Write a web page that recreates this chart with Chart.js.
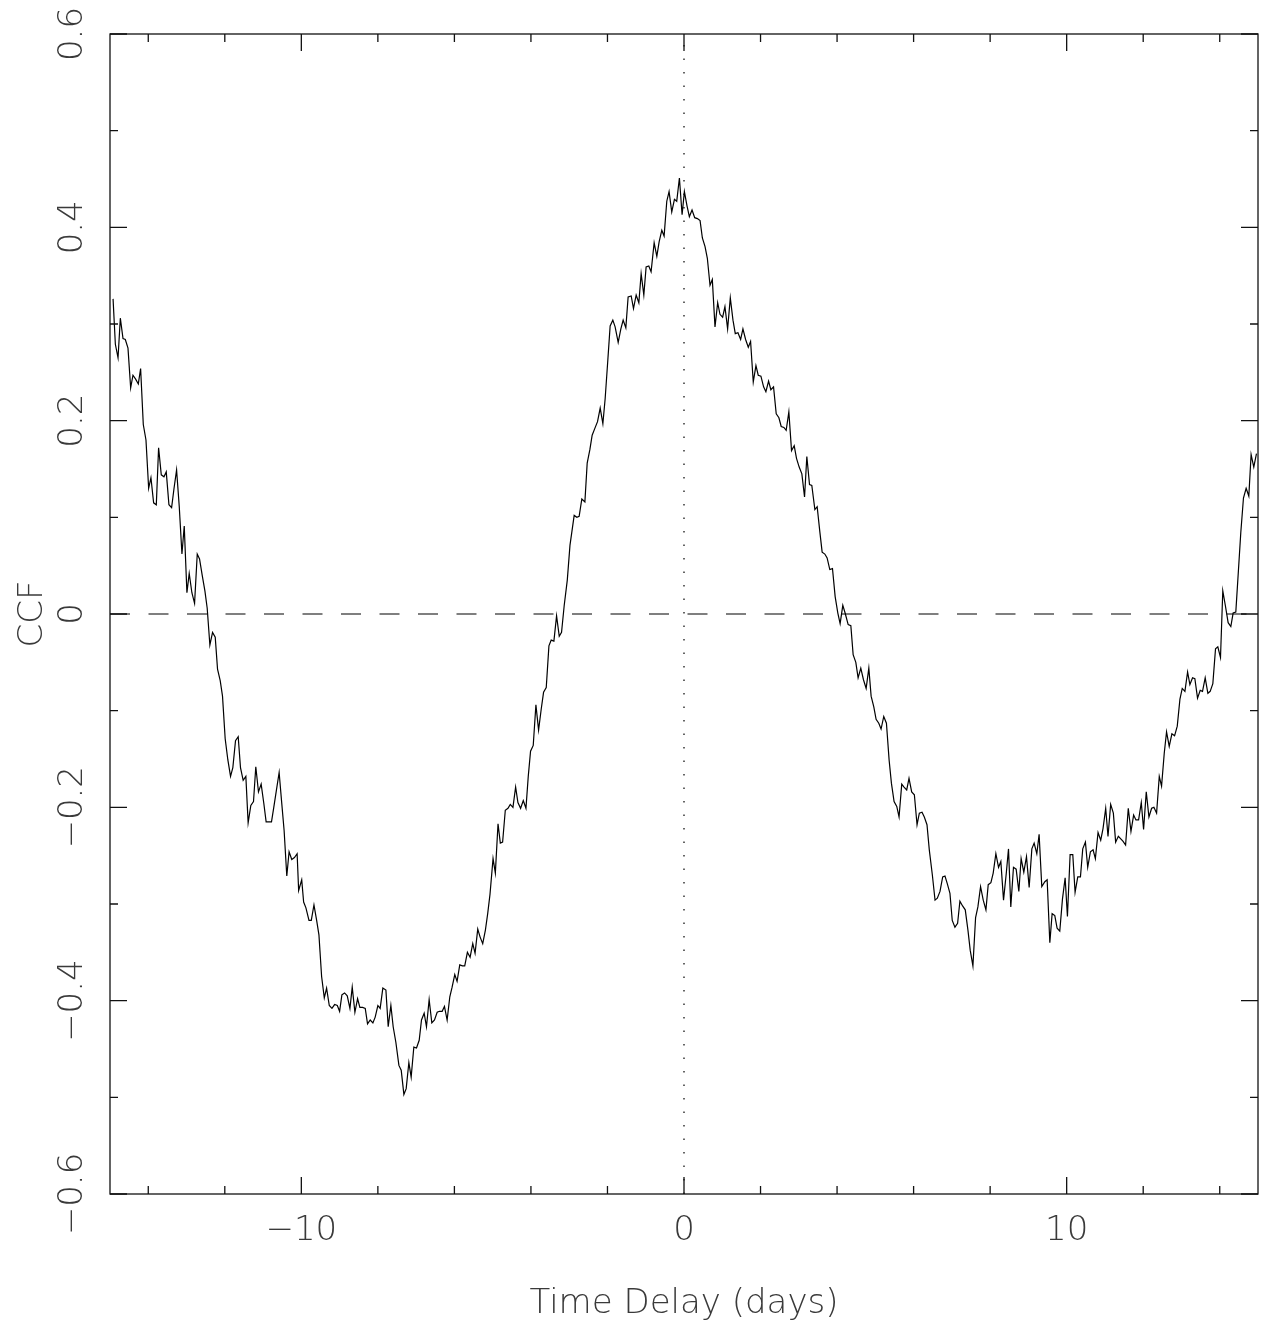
<!DOCTYPE html>
<html>
<head>
<meta charset="utf-8">
<script src="https://cdn.jsdelivr.net/npm/chart.js@4/dist/chart.umd.min.js"></script>
<style>
  html, body { margin: 0; padding: 0; background: #fff; }
  canvas { display: block; }
</style>
</head>
<body>
<canvas id="ccf" width="1263" height="1326"></canvas>
<script>
// lag (days) and CCF, in six stretches
const lagA = [-14.92, -14.86, -14.79, -14.73, -14.66, -14.60, -14.53, -14.46, -14.40, -14.33,
  -14.26, -14.20, -14.13, -14.06, -13.99, -13.93, -13.86, -13.79, -13.73, -13.66,
  -13.59, -13.53, -13.46, -13.39, -13.33, -13.26, -13.19, -13.12, -13.06, -12.99,
  -12.93, -12.86, -12.79, -12.72, -12.66, -12.59, -12.52, -12.46, -12.39, -12.32,
  -12.25, -12.19, -12.12, -12.06, -11.99, -11.92, -11.85, -11.79, -11.72, -11.65,
  -11.59, -11.52, -11.45, -11.39, -11.32, -11.25, -11.19, -11.12, -11.05, -10.98,
  -10.92, -10.85, -10.78, -10.72, -10.65, -10.58, -10.52, -10.45, -10.38, -10.32,
  -10.25, -10.18, -10.11];
const ccfA = [0.326, 0.279, 0.265, 0.306, 0.285, 0.284, 0.275, 0.234, 0.247, 0.243,
  0.238, 0.254, 0.196, 0.180, 0.130, 0.141, 0.115, 0.113, 0.172, 0.144,
  0.142, 0.147, 0.113, 0.110, 0.129, 0.149, 0.111, 0.062, 0.091, 0.022,
  0.042, 0.022, 0.011, 0.062, 0.057, 0.040, 0.024, 0.006, -0.032, -0.019,
  -0.024, -0.057, -0.069, -0.085, -0.129, -0.151, -0.168, -0.159, -0.131, -0.127,
  -0.159, -0.172, -0.168, -0.216, -0.198, -0.194, -0.158, -0.184, -0.176, -0.196,
  -0.215, -0.215, -0.215, -0.200, -0.182, -0.164, -0.192, -0.224, -0.271, -0.246,
  -0.254, -0.252, -0.248];

const lagB = [-10.07, -9.99, -9.94, -9.88, -9.80, -9.74, -9.67, -9.60, -9.54, -9.47,
  -9.40, -9.34, -9.27, -9.20, -9.13, -9.06, -9.00, -8.94, -8.87, -8.80,
  -8.73, -8.67, -8.60, -8.53, -8.47, -8.40, -8.33, -8.27, -8.20, -8.13,
  -8.07, -8.00, -7.94, -7.87, -7.79, -7.73, -7.66, -7.60, -7.53, -7.45,
  -7.39, -7.32, -7.26, -7.19, -7.13, -7.06, -6.99, -6.92, -6.86, -6.79,
  -6.73, -6.66, -6.59, -6.52, -6.45, -6.39, -6.32, -6.26, -6.19, -6.12,
  -6.06, -5.99, -5.93, -5.86, -5.79, -5.73, -5.66, -5.59, -5.52, -5.46,
  -5.39, -5.33, -5.26, -5.19, -5.13, -5.07, -4.99, -4.93, -4.86, -4.80];
const ccfB = [-0.286, -0.275, -0.298, -0.304, -0.317, -0.317, -0.301, -0.317, -0.332, -0.375,
  -0.397, -0.387, -0.405, -0.408, -0.404, -0.405, -0.411, -0.394, -0.392, -0.395,
  -0.408, -0.386, -0.412, -0.398, -0.407, -0.407, -0.408, -0.424, -0.420, -0.423,
  -0.417, -0.405, -0.408, -0.387, -0.389, -0.427, -0.405, -0.427, -0.443, -0.467,
  -0.472, -0.497, -0.491, -0.464, -0.479, -0.448, -0.449, -0.441, -0.420, -0.413,
  -0.427, -0.399, -0.423, -0.420, -0.412, -0.411, -0.411, -0.406, -0.420, -0.396,
  -0.386, -0.373, -0.380, -0.363, -0.364, -0.364, -0.350, -0.355, -0.341, -0.351,
  -0.326, -0.334, -0.341, -0.327, -0.310, -0.290, -0.253, -0.268, -0.217, -0.237];

const lagC = [-4.74, -4.67, -4.60, -4.54, -4.47, -4.40, -4.34, -4.27, -4.20, -4.13,
  -4.07, -4.01, -3.94, -3.87, -3.80, -3.73, -3.67, -3.60, -3.53, -3.47,
  -3.40, -3.33, -3.26, -3.20, -3.13, -3.05, -2.98, -2.87, -2.80, -2.74,
  -2.67, -2.59, -2.53, -2.46, -2.40, -2.33, -2.26, -2.19, -2.12, -2.06,
  -1.99, -1.93, -1.86, -1.80, -1.72, -1.65, -1.59, -1.52, -1.46, -1.38,
  -1.32, -1.25, -1.18, -1.12, -1.05, -0.99, -0.92, -0.86, -0.78, -0.71,
  -0.65, -0.58, -0.52, -0.45, -0.39, -0.32, -0.25, -0.19, -0.12, -0.05,
  0.01, 0.08, 0.14, 0.21, 0.28, 0.35, 0.42];
const ccfC = [-0.236, -0.203, -0.201, -0.197, -0.200, -0.179, -0.195, -0.201, -0.193, -0.201,
  -0.168, -0.142, -0.136, -0.094, -0.120, -0.098, -0.081, -0.076, -0.033, -0.027,
  -0.028, -0.002, -0.023, -0.019, 0.009, 0.035, 0.071, 0.102, 0.100, 0.101,
  0.119, 0.116, 0.156, 0.170, 0.185, 0.192, 0.199, 0.213, 0.197, 0.223,
  0.263, 0.298, 0.304, 0.297, 0.281, 0.295, 0.304, 0.296, 0.328, 0.329,
  0.316, 0.330, 0.322, 0.352, 0.330, 0.359, 0.360, 0.354, 0.384, 0.370,
  0.385, 0.397, 0.391, 0.427, 0.437, 0.416, 0.429, 0.427, 0.451, 0.413,
  0.437, 0.422, 0.411, 0.418, 0.410, 0.409, 0.407];

const lagD = [0.48, 0.55, 0.61, 0.68, 0.74, 0.81, 0.88, 0.94, 1.01, 1.07,
  1.14, 1.21, 1.28, 1.34, 1.41, 1.48, 1.54, 1.61, 1.68, 1.74,
  1.81, 1.88, 1.94, 2.01, 2.08, 2.14, 2.21, 2.27, 2.34, 2.41,
  2.48, 2.54, 2.61, 2.67, 2.74, 2.81, 2.88, 2.94, 3.01, 3.08,
  3.15, 3.21, 3.28, 3.34, 3.42, 3.48, 3.55, 3.61, 3.68, 3.74,
  3.81, 3.88, 3.95, 4.02, 4.08, 4.15, 4.21, 4.29, 4.36, 4.42,
  4.49, 4.55, 4.62, 4.69, 4.76, 4.83, 4.89, 4.96, 5.02, 5.09,
  5.15, 5.22, 5.29, 5.36, 5.42, 5.49, 5.56, 5.62, 5.69, 5.75,
  5.82, 5.88, 5.95, 6.02, 6.09, 6.15, 6.22, 6.28, 6.35, 6.41,
  6.49, 6.56, 6.62];
const ccfD = [0.389, 0.380, 0.368, 0.340, 0.346, 0.297, 0.322, 0.310, 0.307, 0.318,
  0.295, 0.327, 0.304, 0.290, 0.291, 0.284, 0.295, 0.284, 0.276, 0.282,
  0.240, 0.257, 0.247, 0.246, 0.235, 0.230, 0.241, 0.232, 0.235, 0.207,
  0.203, 0.194, 0.193, 0.190, 0.209, 0.169, 0.174, 0.161, 0.152, 0.145,
  0.121, 0.163, 0.134, 0.133, 0.108, 0.111, 0.085, 0.064, 0.062, 0.058,
  0.046, 0.047, 0.018, 0.001, -0.010, 0.009, 0.001, -0.011, -0.012, -0.042,
  -0.050, -0.066, -0.056, -0.068, -0.077, -0.056, -0.085, -0.096, -0.109, -0.113,
  -0.119, -0.106, -0.113, -0.151, -0.175, -0.194, -0.199, -0.210, -0.176, -0.179,
  -0.182, -0.170, -0.184, -0.187, -0.218, -0.206, -0.205, -0.210, -0.218, -0.244,
  -0.270, -0.296, -0.294];

const lagE = [6.69, 6.76, 6.82, 6.88, 6.95, 7.01, 7.08, 7.15, 7.21, 7.28,
  7.35, 7.42, 7.48, 7.55, 7.62, 7.68, 7.75, 7.82, 7.89, 7.95,
  8.02, 8.08, 8.15, 8.22, 8.28, 8.35, 8.42, 8.48, 8.54, 8.61,
  8.68, 8.75, 8.81, 8.88, 8.95, 9.02, 9.09, 9.15, 9.22, 9.28,
  9.35, 9.43, 9.49, 9.56, 9.62, 9.69, 9.75, 9.82, 9.89, 9.96,
  10.02, 10.09, 10.16, 10.22, 10.29, 10.36, 10.42, 10.49, 10.55, 10.62,
  10.69, 10.75, 10.82, 10.89, 10.95, 11.02, 11.08, 11.15, 11.22, 11.28,
  11.35];
const ccfE = [-0.287, -0.272, -0.271, -0.279, -0.289, -0.317, -0.324, -0.320, -0.297, -0.302,
  -0.306, -0.327, -0.348, -0.364, -0.314, -0.303, -0.282, -0.296, -0.306, -0.280,
  -0.278, -0.268, -0.248, -0.262, -0.256, -0.296, -0.269, -0.243, -0.303, -0.262,
  -0.264, -0.287, -0.253, -0.267, -0.251, -0.283, -0.243, -0.237, -0.248, -0.228,
  -0.282, -0.277, -0.275, -0.340, -0.310, -0.312, -0.325, -0.328, -0.295, -0.273,
  -0.313, -0.249, -0.249, -0.288, -0.272, -0.272, -0.243, -0.236, -0.262, -0.246,
  -0.244, -0.253, -0.226, -0.234, -0.222, -0.201, -0.230, -0.197, -0.206, -0.236,
  -0.230];

const lagF = [11.47, 11.54, 11.61, 11.68, 11.75, 11.81, 11.88, 11.95, 12.01, 12.08,
  12.15, 12.22, 12.28, 12.35, 12.42, 12.48, 12.55, 12.61, 12.68, 12.75,
  12.82, 12.89, 12.96, 13.02, 13.09, 13.16, 13.22, 13.29, 13.35, 13.42,
  13.49, 13.55, 13.62, 13.69, 13.75, 13.82, 13.89, 13.95, 14.02, 14.08,
  14.15, 14.22, 14.29, 14.35, 14.42, 14.49, 14.55, 14.62, 14.69, 14.76,
  14.82, 14.89, 14.96];
const ccfF = [-0.235, -0.239, -0.201, -0.225, -0.208, -0.213, -0.213, -0.195, -0.223, -0.184,
  -0.210, -0.201, -0.200, -0.206, -0.168, -0.178, -0.144, -0.122, -0.137, -0.124,
  -0.126, -0.116, -0.088, -0.077, -0.080, -0.060, -0.073, -0.066, -0.067, -0.087,
  -0.079, -0.080, -0.066, -0.082, -0.080, -0.072, -0.036, -0.034, -0.045, 0.024,
  0.008, -0.009, -0.013, 0.001, 0.002, 0.046, 0.084, 0.120, 0.130, 0.122,
  0.165, 0.152, 0.166];

const xTicks = [-14, -12, -10, -8, -6, -4, -2, 0, 2, 4, 6, 8, 10, 12, 14];
const xTickLabels = { "-10": "\u221210", "0": "0", "10": "10" };
const yTicks = [-0.6, -0.5, -0.4, -0.3, -0.2, -0.1, 0, 0.1, 0.2, 0.3, 0.4, 0.5, 0.6];
const yLabelValues = [-0.6, -0.4, -0.2, 0, 0.2, 0.4, 0.6];
const yLabels = ["\u22120.6", "\u22120.4", "\u22120.2", "0", "0.2", "0.4", "0.6"];

const lags = [].concat(lagA, lagB, lagC, lagD, lagE, lagF);
const ccf = [].concat(ccfA, ccfB, ccfC, ccfD, ccfE, ccfF);
if (lags.length !== ccf.length) console.error("length mismatch", lags.length, ccf.length);

const textColor = "#3a3a3a";
const textFont = { family: "DejaVu Sans", size: 34, weight: "200" };

// frame, inward ticks on all four sides, rotated y labels
const frame = {
  id: "frame",
  afterDraw(chart) {
    const { ctx, chartArea: a, scales } = chart;
    const x = scales.x, y = scales.y;
    ctx.save();
    ctx.strokeStyle = "#111";
    ctx.lineWidth = 1.3;
    ctx.strokeRect(a.left, a.top, a.right - a.left, a.bottom - a.top);
    ctx.beginPath();
    x.ticks.forEach(t => {
      const px = x.getPixelForValue(t.value);
      const len = t.value % 10 === 0 ? 17 : 8;
      ctx.moveTo(px, a.bottom); ctx.lineTo(px, a.bottom - len);
      ctx.moveTo(px, a.top); ctx.lineTo(px, a.top + len);
    });
    y.ticks.forEach(t => {
      const py = y.getPixelForValue(t.value);
      const len = Math.round(Math.abs(t.value) * 10) % 2 === 0 ? 17 : 8;
      ctx.moveTo(a.left, py); ctx.lineTo(a.left + len, py);
      ctx.moveTo(a.right, py); ctx.lineTo(a.right - len, py);
    });
    ctx.stroke();

    ctx.fillStyle = textColor;
    ctx.font = textFont.weight + " " + textFont.size + "px '" + textFont.family + "'";
    ctx.textAlign = "center";
    ctx.textBaseline = "middle";
    yLabelValues.forEach((v, i) => {
      ctx.save();
      ctx.translate(73, y.getPixelForValue(v));
      ctx.rotate(-Math.PI / 2);
      ctx.fillText(yLabels[i], 0, 0);
      ctx.restore();
    });
    ctx.restore();
  }
};

new Chart(document.getElementById("ccf"), {
  type: "line",
  data: {
    datasets: [
      {
        data: lags.map((l, i) => ({ x: l, y: ccf[i] })),
        borderColor: "#000",
        borderWidth: 1.2,
        pointRadius: 0,
        tension: 0
      },
      {
        data: [{ x: -15, y: 0 }, { x: 15, y: 0 }],
        borderColor: "#000",
        borderWidth: 1.2,
        borderDash: [20, 18.5],
        pointRadius: 0
      },
      {
        data: [{ x: 0, y: -0.6 }, { x: 0, y: 0.6 }],
        borderColor: "#000",
        borderWidth: 1.2,
        borderDash: [1.5, 12],
        pointRadius: 0
      }
    ]
  },
  options: {
    responsive: false,
    devicePixelRatio: 1,
    animation: false,
    layout: { padding: { top: 34, right: 5, left: 0, bottom: 0 } },
    plugins: { legend: { display: false }, tooltip: { enabled: false } },
    scales: {
      x: {
        type: "linear",
        min: -15,
        max: 15,
        grid: { display: false, drawTicks: false },
        border: { display: false },
        afterBuildTicks: s => { s.ticks = xTicks.map(v => ({ value: v })); },
        afterFit: s => { s.height = 132; },
        ticks: {
          autoSkip: false,
          maxRotation: 0,
          padding: 17,
          color: textColor,
          font: textFont,
          callback: v => xTickLabels[v] || ""
        },
        title: {
          display: true,
          text: "Time Delay (days)",
          color: textColor,
          font: textFont,
          padding: { top: 0, bottom: 1 }
        }
      },
      y: {
        type: "linear",
        min: -0.6,
        max: 0.6,
        grid: { display: false, drawTicks: false },
        border: { display: false },
        afterBuildTicks: s => { s.ticks = yTicks.map(v => ({ value: v })); },
        afterFit: s => { s.width = 110; },
        ticks: { display: false },
        title: {
          display: true,
          text: "CCF",
          color: textColor,
          font: textFont,
          padding: { top: 13, bottom: 0 }
        }
      }
    }
  },
  plugins: [frame]
});
</script>
</body>
</html>
